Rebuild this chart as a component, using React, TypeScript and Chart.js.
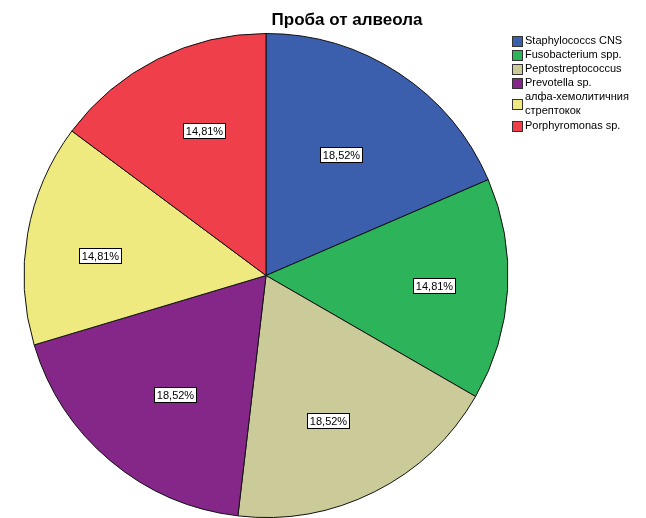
import React, { useEffect, useRef } from "react";
import { Chart, registerables } from "chart.js";

Chart.register(...registerables);

const title = "Проба от алвеола";
const categories = [
  "Staphylococcs CNS",
  "Fusobacterium spp.",
  "Peptostreptococcus",
  "Prevotella sp.",
  "алфа-хемолитичния стрептокок",
  "Porphyromonas sp.",
];
const legendLines = [
  ["Staphylococcs CNS"],
  ["Fusobacterium spp."],
  ["Peptostreptococcus"],
  ["Prevotella sp."],
  ["алфа-хемолитичния", "стрептокок"],
  ["Porphyromonas sp."],
];
const counts = [5, 4, 5, 5, 4, 4];
const colors = ["#3b5ead", "#2db359", "#cbcb99", "#842788", "#eeea80", "#ef3f4b"];

// label placement style: fraction of radius and angle shift (degrees)
const labelRadius = [0.59, 0.695, 0.65, 0.62, 0.69, 0.65];
const labelShift = [-1.5, 0, 3.5, -2.5, -3.2, 3.5];

const FONT = "'Liberation Sans', Arial, sans-serif";

const overlayPlugin = {
  id: "overlay",
  afterDraw(chart: any) {
    const ctx = chart.ctx as CanvasRenderingContext2D;
    const meta = chart.getDatasetMeta(0);
    const total = counts.reduce((a, b) => a + b, 0);
    ctx.save();
    ctx.font = `11px ${FONT}`;
    ctx.textAlign = "center";
    ctx.textBaseline = "middle";
    meta.data.forEach((arc: any, i: number) => {
      const { x, y, startAngle, endAngle, outerRadius } = arc.getProps(
        ["x", "y", "startAngle", "endAngle", "outerRadius"],
        true
      );
      const mid = (startAngle + endAngle) / 2 + (labelShift[i] * Math.PI) / 180;
      const r = outerRadius * labelRadius[i];
      const cx = x + Math.cos(mid) * r;
      const cy = y + Math.sin(mid) * r;
      const txt = ((counts[i] / total) * 100).toFixed(2).replace(".", ",") + "%";
      const w = Math.round(ctx.measureText(txt).width + 5);
      const h = 15;
      const bx = Math.round(cx - w / 2) + 0.5;
      const by = Math.round(cy - h / 2) + 0.5;
      ctx.fillStyle = "#ffffff";
      ctx.fillRect(bx, by, w, h);
      ctx.strokeStyle = "#000000";
      ctx.lineWidth = 1;
      ctx.strokeRect(bx, by, w, h);
      ctx.fillStyle = "#000000";
      ctx.fillText(txt, bx + w / 2, by + h / 2 + 0.5);
    });
    // title
    ctx.font = `bold 17px ${FONT}`;
    ctx.textAlign = "center";
    ctx.fillStyle = "#000000";
    ctx.fillText(title, 347, 20);
    // legend
    ctx.font = `11px ${FONT}`;
    ctx.textAlign = "left";
    let yy = 40.5;
    legendLines.forEach((lines, i) => {
      const n = lines.length;
      const blockH = (n - 1) * 14;
      const my = yy + blockH / 2 + (n > 1 ? 0.5 : 0);
      ctx.fillStyle = colors[i];
      ctx.fillRect(512.5, Math.round(my - 5) + 0.5, 10, 10);
      ctx.strokeStyle = "#333333";
      ctx.lineWidth = 1;
      ctx.strokeRect(512.5, Math.round(my - 5) + 0.5, 10, 10);
      ctx.fillStyle = "#000000";
      lines.forEach((ln, k) => {
        ctx.fillText(ln, 525, yy + k * 14);
      });
      yy += n * 14 + (n > 1 ? 1 : 0);
    });
    ctx.restore();
  },
};

export default function App() {
  const ref = useRef<HTMLCanvasElement | null>(null);
  useEffect(() => {
    document.body.style.margin = "0";
    const chart = new Chart(ref.current as HTMLCanvasElement, {
      type: "pie",
      data: {
        labels: categories,
        datasets: [
          {
            data: counts,
            backgroundColor: colors,
            borderColor: "#111111",
            borderWidth: 1,
          },
        ],
      },
      options: {
        animation: false,
        responsive: false,
        layout: { padding: { left: 23, right: 137, top: 33, bottom: 0 } },
        plugins: {
          legend: { display: false },
          tooltip: { enabled: false },
          title: { display: false },
        },
      },
      plugins: [overlayPlugin],
    });
    return () => chart.destroy();
  }, []);
  return (
    <div style={{ width: 646, height: 518 }}>
      <canvas ref={ref} width={646} height={518} style={{ display: "block" }} />
    </div>
  );
}
